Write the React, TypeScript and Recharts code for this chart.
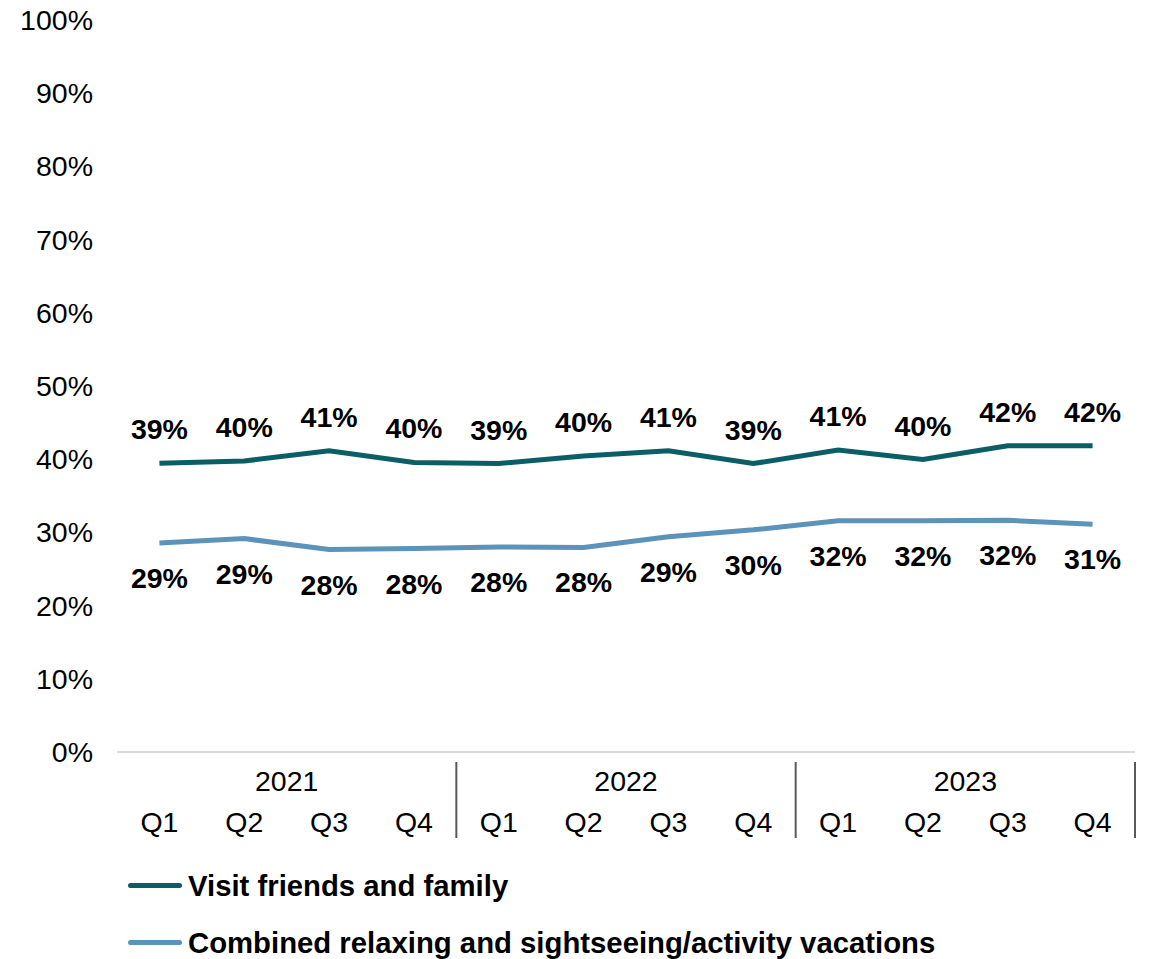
import { Line, LineChart, XAxis, YAxis } from "recharts";

const quarters = ["Q1", "Q2", "Q3", "Q4", "Q1", "Q2", "Q3", "Q4", "Q1", "Q2", "Q3", "Q4"];
const years = ["2021", "2021", "2021", "2021", "2022", "2022", "2022", "2022", "2023", "2023", "2023", "2023"];
const visitFriends = [39.45, 39.75, 41.15, 39.55, 39.4, 40.45, 41.15, 39.4, 41.25, 39.95, 41.85, 41.85];
const combinedVacations = [28.55, 29.15, 27.65, 27.8, 28.0, 27.95, 29.4, 30.35, 31.6, 31.6, 31.65, 31.1];
const yTicks = [0, 10, 20, 30, 40, 50, 60, 70, 80, 90, 100];

const data = quarters.map((q, i) => ({
  key: `${years[i]}-${q}`,
  quarter: q,
  year: years[i],
  visit: visitFriends[i],
  combined: combinedVacations[i],
}));

const font = "'Liberation Sans', Arial, sans-serif";
const darkTeal = "#0b5d66";
const lightBlue = "#5b93ba";
const chartWidth = 1153;
const plotLeft = 117;
const plotRight = 1135;
const band = (plotRight - plotLeft) / quarters.length;
const xAxisHeight = 90;

function QuarterTick(props: any) {
  const { x, y, index } = props;
  const row = data[index];
  return (
    <g>
      <text x={x} y={y + 72} textAnchor="middle" fontSize={28.5} fontFamily={font} fill="#000">
        {row.quarter}
      </text>
      {index % 4 === 1 && (
        <text x={x + band / 2} y={y + 31} textAnchor="middle" fontSize={28.5} fontFamily={font} fill="#000">
          {row.year}
        </text>
      )}
      {index % 4 === 3 && (
        <line x1={x + band / 2} x2={x + band / 2} y1={y + 2} y2={y + 78} stroke="#595959" strokeWidth={2} />
      )}
    </g>
  );
}

function PercentTick(props: any) {
  const { x, y, payload } = props;
  return (
    <text x={x - 16} y={y + 10} textAnchor="end" fontSize={28.5} fontFamily={font} fill="#000">
      {payload.value}%
    </text>
  );
}

function makeLabel(dy: number) {
  return (props: any) => {
    const { x, y, value } = props;
    return (
      <text x={x} y={y + dy} textAnchor="middle" fontSize={28.5} fontWeight="bold" fontFamily={font} fill="#000">
        {Math.round(value)}%
      </text>
    );
  };
}

const legendItems = [
  { name: "Visit friends and family", color: darkTeal },
  { name: "Combined relaxing and sightseeing/activity vacations", color: lightBlue },
];

export default function App() {
  return (
    <div style={{ position: "absolute", left: 0, top: 0, width: chartWidth, height: 959, background: "#fff" }}>
      <LineChart
        width={chartWidth}
        height={959}
        data={data}
        margin={{ top: 20, right: chartWidth - plotRight, bottom: 207 - xAxisHeight, left: 0 }}
      >
        <XAxis
          dataKey="key"
          height={xAxisHeight}
          interval={0}
          tickLine={false}
          axisLine={{ stroke: "#d9d9d9", strokeWidth: 2 }}
          padding={{ left: band / 2, right: band / 2 }}
          tick={<QuarterTick />}
        />
        <YAxis
          width={plotLeft}
          domain={[0, 100]}
          ticks={yTicks}
          interval={0}
          axisLine={false}
          tickLine={false}
          tick={<PercentTick />}
        />
        <Line
          dataKey="visit"
          name="Visit friends and family"
          stroke={darkTeal}
          strokeWidth={5}
          dot={false}
          isAnimationActive={false}
          label={makeLabel(-24)}
        />
        <Line
          dataKey="combined"
          name="Combined relaxing and sightseeing/activity vacations"
          stroke={lightBlue}
          strokeWidth={5}
          dot={false}
          isAnimationActive={false}
          label={makeLabel(45)}
        />
      </LineChart>
      <div style={{ position: "absolute", left: 0, top: 857 }}>
        {legendItems.map((item) => (
          <div
            key={item.name}
            style={{ display: "flex", alignItems: "center", height: 57, fontFamily: font, fontWeight: "bold", fontSize: 29.3 }}
          >
            <span style={{ display: "inline-block", width: 54, height: 5, borderRadius: 3, background: item.color, marginLeft: 128, marginRight: 6 }} />
            <span>{item.name}</span>
          </div>
        ))}
      </div>
    </div>
  );
}
